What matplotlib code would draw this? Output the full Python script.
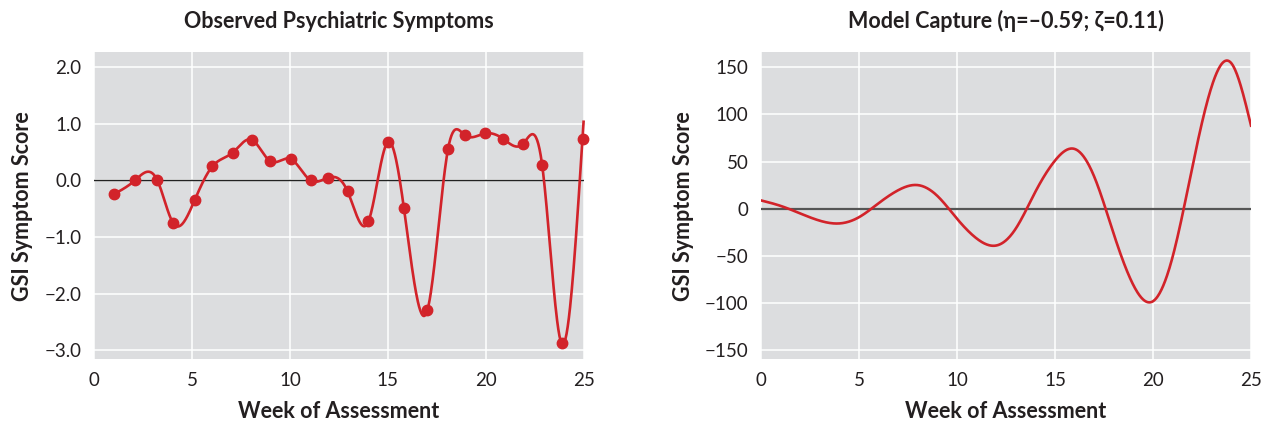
import numpy as np
import matplotlib
matplotlib.use("Agg")
import matplotlib.pyplot as plt

plt.rcParams['font.family'] = ['Lato', 'DejaVu Sans']

# observed GSI scores (left panel)
obs_week = [1.02, 2.08, 3.23, 4.03, 5.13, 6.04, 7.07, 8.05, 8.99, 10.03, 11.06, 11.96, 12.94,
            14.01, 15.0, 15.82, 17.02, 18.07, 18.93, 19.94, 20.87, 21.91, 22.88, 23.87, 24.94]
obs_score = [-0.24, 0.0, 0.0, -0.75, -0.35, 0.25, 0.49, 0.72, 0.34, 0.38, 0.0, 0.05, -0.19,
             -0.72, 0.68, -0.49, -2.29, 0.55, 0.80, 0.83, 0.74, 0.65, 0.27, -2.88, 0.74]

# model curve read at each week (right panel)
model_week = list(range(0, 26))
model_score = [8.8, 3.0, -5.0, -12.7, -15.6, -9.0, 5.8, 19.6, 25.0, 13.5, -10.6, -31.5, -39.0,
               -21.0, 18.0, 51.0, 63.3, 34.0, -27.0, -81.0, -98.0, -51.0, 43.6, 130.0, 154.0, 88.0]

left_ticks = [2.0, 1.0, 0.0, -1.0, -2.0, -3.0]
right_ticks = [150, 100, 50, 0, -50, -100, -150]
x_ticks = [0, 5, 10, 15, 20, 25]

RED = '#d2232a'
BG = '#dcdddf'
TXT = '#231f20'
WEIGHT = 'bold'


def spline(x, y, xs):
    # natural cubic spline, only used to draw the smooth line
    x = np.asarray(x, float)
    y = np.asarray(y, float)
    n = len(x)
    h = np.diff(x)
    A = np.zeros((n, n))
    b = np.zeros(n)
    A[0, 0] = A[-1, -1] = 1
    for i in range(1, n - 1):
        A[i, i - 1] = h[i - 1]
        A[i, i] = 2 * (h[i - 1] + h[i])
        A[i, i + 1] = h[i]
        b[i] = 3 * ((y[i + 1] - y[i]) / h[i] - (y[i] - y[i - 1]) / h[i - 1])
    c = np.linalg.solve(A, b)
    bc = (y[1:] - y[:-1]) / h - h * (2 * c[:-1] + c[1:]) / 3
    d = (c[1:] - c[:-1]) / (3 * h)
    idx = np.clip(np.searchsorted(x, xs) - 1, 0, n - 2)
    dx = xs - x[idx]
    return y[idx] + bc[idx] * dx + c[idx] * dx ** 2 + d[idx] * dx ** 3


fig = plt.figure(figsize=(12.62, 4.22), dpi=100)
ax1 = fig.add_axes([0.0746, 0.1486, 0.3879, 0.7282])
ax2 = fig.add_axes([0.6030, 0.1486, 0.3883, 0.7282])


def style(ax):
    ax.set_facecolor(BG)
    for s in ax.spines.values():
        s.set_visible(False)
    ax.grid(True, color='white', linewidth=1.1)
    ax.set_axisbelow(True)
    ax.tick_params(length=0, labelsize=13.5, labelcolor=TXT, pad=9)
    ax.set_xlim(0, 25)
    ax.set_xticks(x_ticks)
    ax.set_xlabel('Week of Assessment', fontsize=15.5, fontweight=WEIGHT, color=TXT, labelpad=9)
    ax.set_ylabel('GSI Symptom Score', fontsize=15.5, fontweight=WEIGHT, color=TXT, labelpad=8)


# left
style(ax1)
ax1.set_ylim(-3.16, 2.27)
ax1.set_yticks(left_ticks)
ax1.set_yticklabels([f'{t:.1f}'.replace('-', '\u2212') for t in left_ticks])
ax1.axhline(0, color='#222222', linewidth=1.0, zorder=2)
xs = np.linspace(obs_week[0], 24.995, 800)
ax1.plot(xs, spline(obs_week, obs_score, xs), color=RED, linewidth=1.9, zorder=3, clip_on=False)
ax1.plot(obs_week, obs_score, 'o', color=RED, markersize=7.5, zorder=4, clip_on=False)
ax1.set_title('Observed Psychiatric Symptoms', fontsize=15.5, fontweight=WEIGHT, color=TXT, pad=17)

# right
style(ax2)
ax2.set_ylim(-159.5, 166)
ax2.set_yticks(right_ticks)
ax2.set_yticklabels([str(t).replace('-', '\u2212') for t in right_ticks])
ax2.axhline(0, color='#555555', linewidth=1.6, zorder=2)
xs2 = np.linspace(0, 25, 800)
ax2.plot(xs2, spline(model_week, model_score, xs2), color=RED, linewidth=1.9, zorder=3)
ax2.set_title('Model Capture (\u03b7=\u20130.59; \u03b6=0.11)', fontsize=15.5, fontweight=WEIGHT,
              color=TXT, pad=17)

fig.savefig('out.png', dpi=100)
